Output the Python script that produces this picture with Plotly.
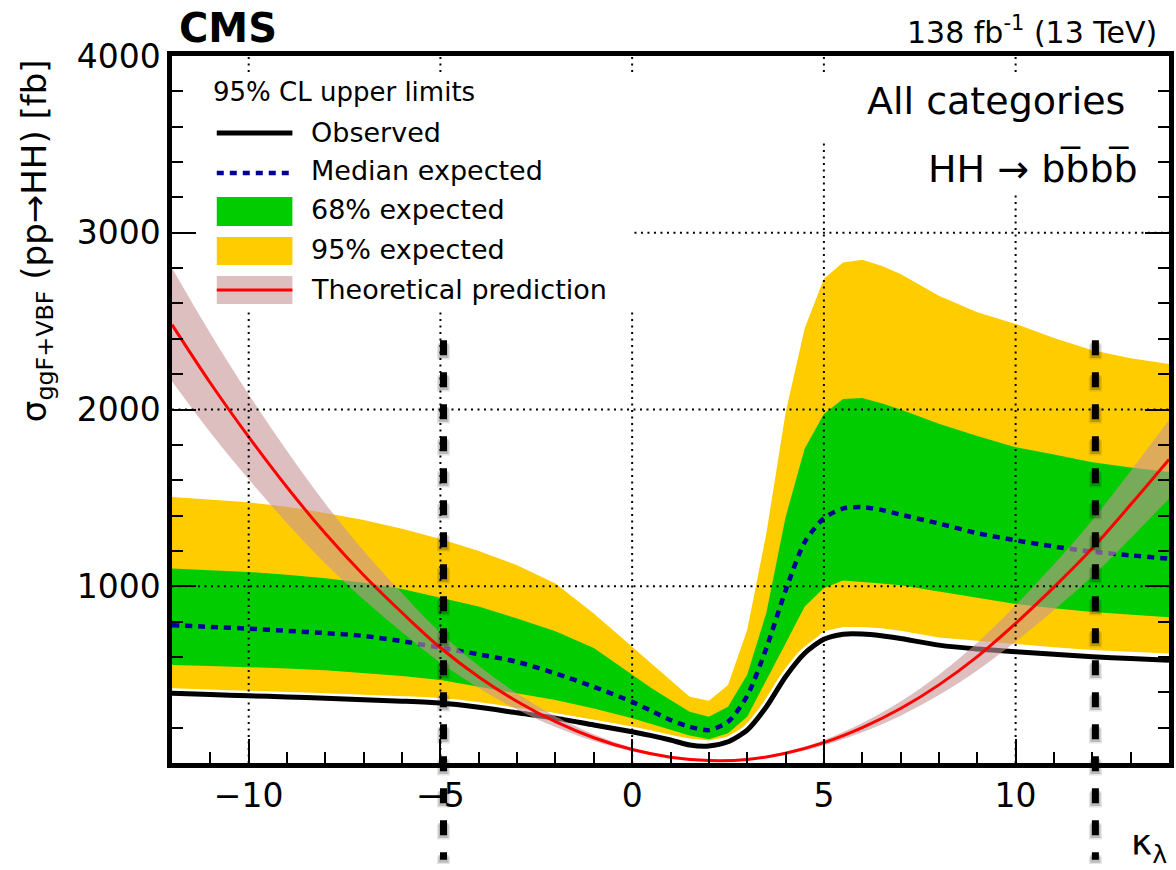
import plotly.graph_objects as go

# ---------------- data ----------------
kappa = [-12, -11, -10, -9, -8, -7, -6, -5, -4, -3, -2, -1, 0, 0.5, 1, 1.5, 2, 2.5,
         3, 3.5, 4, 4.5, 5, 5.5, 6, 6.5, 7, 8, 9, 10, 11, 12, 13, 14]

observed = [395, 388, 380, 374, 366, 358, 350, 339, 315, 284, 254, 215, 177, 155, 130, 102, 96, 120,
            186, 318, 488, 621, 700, 729, 730, 720, 704, 667, 645, 630, 615, 601, 591, 582]

exp_median = [780, 770, 760, 748, 735, 719, 689, 652, 615, 572, 507, 431, 346, 295, 243, 205, 186, 233,
              380, 650, 975, 1250, 1385, 1440, 1448, 1432, 1405, 1355, 1300, 1260, 1225, 1195, 1175, 1156]

exp_68_lo = [554, 549, 544, 535, 525, 510, 492, 469, 435, 394, 356, 309, 253, 220, 186, 155, 135, 168,
             262, 469, 676, 885, 990, 1032, 1025, 1015, 1005, 968, 935, 900, 875, 855, 840, 825]

exp_68_hi = [1100, 1092, 1081, 1065, 1045, 1020, 985, 935, 885, 817, 745, 650, 497, 425, 356, 290, 262, 318,
             500, 850, 1390, 1780, 1975, 2060, 2065, 2035, 2000, 1920, 1850, 1787, 1745, 1702, 1672, 1646]

exp_95_lo = [410, 404, 398, 392, 385, 378, 370, 362, 340, 310, 280, 244, 205, 180, 158, 138, 128, 148,
             212, 350, 520, 650, 745, 770, 770, 762, 748, 710, 690, 672, 655, 640, 630, 620]

exp_95_hi = [1505, 1490, 1475, 1450, 1415, 1375, 1325, 1268, 1200, 1119, 1015, 846, 657, 560, 469, 375, 352, 441,
             752, 1300, 1980, 2460, 2740, 2832, 2847, 2814, 2767, 2644, 2550, 2484, 2405, 2335, 2290, 2258]

theory_kappa = [-12, -11, -10, -9, -8, -7, -6, -5, -4, -3, -2, -1, 0, 1, 2, 3, 4, 5, 6, 7, 8, 9, 10, 11, 12, 13, 14]
theory = [2480, 2150, 1845, 1560, 1298, 1062, 850, 652, 487, 348, 234, 143, 76, 33, 14, 20, 55, 115,
          200, 308, 442, 602, 790, 995, 1215, 1462, 1718]
theory_hi = [2800, 2430, 2085, 1765, 1467, 1200, 960, 737, 550, 393, 264, 162, 86, 38, 17, 24, 63, 130,
             226, 348, 500, 680, 893, 1124, 1373, 1652, 1940]
theory_lo = [2160, 1870, 1605, 1357, 1129, 924, 740, 567, 424, 303, 204, 124, 66, 28, 11, 16, 47, 100,
             174, 268, 385, 524, 687, 866, 1057, 1272, 1495]

# kappa_lambda values where the prediction meets the median expected limit
kl_expected_bounds = [-4.92, 12.08]

x_range = [-12, 14]
y_range = [0, 4000]
y_ticks = [1000, 2000, 3000, 4000]

# ---------------- style ----------------
FONT = "DejaVu Sans"
YELLOW = "#ffcc00"
GREEN = "#00cc00"
BLUE = "#000099"
RED = "#ff0000"
BAND = "rgba(198,148,148,0.6)"

fig = go.Figure()

# 95% band
fig.add_trace(go.Scatter(x=kappa + kappa[::-1], y=exp_95_hi + exp_95_lo[::-1],
                         fill="toself", fillcolor=YELLOW, line=dict(width=0),
                         mode="lines", hoverinfo="skip", showlegend=False))
# 68% band
fig.add_trace(go.Scatter(x=kappa + kappa[::-1], y=exp_68_hi + exp_68_lo[::-1],
                         fill="toself", fillcolor=GREEN, line=dict(width=0),
                         mode="lines", hoverinfo="skip", showlegend=False))
# median expected
fig.add_trace(go.Scatter(x=kappa, y=exp_median, mode="lines",
                         line=dict(color=BLUE, width=4.5, dash="7px,6px",
                                   shape="spline", smoothing=0.7),
                         showlegend=False))
# observed (white outline + black line)
fig.add_trace(go.Scatter(x=kappa, y=observed, mode="lines",
                         line=dict(color="white", width=10, shape="spline", smoothing=0.7),
                         hoverinfo="skip", showlegend=False))
fig.add_trace(go.Scatter(x=kappa, y=observed, mode="lines",
                         line=dict(color="black", width=5, shape="spline", smoothing=0.7),
                         showlegend=False))
# theoretical prediction band and central value
fig.add_trace(go.Scatter(x=theory_kappa, y=theory_lo, mode="lines",
                         line=dict(width=0, shape="spline"), hoverinfo="skip", showlegend=False))
fig.add_trace(go.Scatter(x=theory_kappa, y=theory_hi, mode="lines", fill="tonexty",
                         fillcolor=BAND, line=dict(width=0, shape="spline"),
                         hoverinfo="skip", showlegend=False))
fig.add_trace(go.Scatter(x=theory_kappa, y=theory, mode="lines",
                         line=dict(color=RED, width=3, shape="spline"), showlegend=False))

shapes = []

# dotted grid drawn over the bands, broken where the text boxes sit
grid = dict(color="black", width=2, dash="2px,4.5px")
v_grid = {-10: [(0, 2563), (3909, 4000)],
          -5: [(0, 2563), (3909, 4000)],
          0: [(0, 2563), (3909, 4000)],
          5: [(0, 3525), (3909, 4000)],
          10: [(0, 3214), (3909, 4000)]}
for xv, segs in v_grid.items():
    for y0, y1 in segs:
        shapes.append(dict(type="line", xref="x", yref="y", x0=xv, x1=xv, y0=y0, y1=y1,
                           line=grid, layer="above"))
h_grid = {1000: (-12, 14), 2000: (-12, 14), 3000: (0.06, 14)}
for yv, (x0, x1) in h_grid.items():
    shapes.append(dict(type="line", xref="x", yref="y", x0=x0, x1=x1, y0=yv, y1=yv,
                       line=grid, layer="above"))

# vertical markers of the expected interval, with a soft shadow
for kv in kl_expected_bounds:
    for off, w, c in [(-0.006, 13, "rgba(0,0,0,0.10)"), (-0.004, 10, "rgba(0,0,0,0.18)")]:
        shapes.append(dict(type="line", xref="x", yref="paper", x0=kv, x1=kv,
                           y0=0.598 + off, y1=-0.137 + off,
                           line=dict(color=c, width=w, dash="15px,17px"), layer="above"))
    shapes.append(dict(type="line", xref="x", yref="paper", x0=kv, x1=kv, y0=0.598, y1=-0.137,
                       line=dict(color="black", width=7, dash="15px,17px"), layer="above"))


# legend drawn in paper coordinates
def px(x):
    return (x - 172) / 1002


def py(y):
    return (763 - y) / 707


lx0, lx1 = px(217), px(293)
shapes += [
    dict(type="line", xref="paper", yref="paper", x0=lx0, x1=lx1, y0=py(133), y1=py(133),
         line=dict(color="black", width=5)),
    dict(type="line", xref="paper", yref="paper", x0=lx0, x1=lx1, y0=py(173), y1=py(173),
         line=dict(color=BLUE, width=4.5, dash="7px,6px")),
    dict(type="rect", xref="paper", yref="paper", x0=lx0, x1=lx1, y0=py(226), y1=py(197),
         fillcolor=GREEN, line=dict(width=0)),
    dict(type="rect", xref="paper", yref="paper", x0=lx0, x1=lx1, y0=py(265), y1=py(237),
         fillcolor=YELLOW, line=dict(width=0)),
    dict(type="rect", xref="paper", yref="paper", x0=lx0, x1=lx1, y0=py(304), y1=py(276),
         fillcolor=BAND, line=dict(width=0)),
    dict(type="line", xref="paper", yref="paper", x0=lx0, x1=lx1, y0=py(290), y1=py(290),
         line=dict(color=RED, width=3)),
]

annotations = []


def txt(text, x, y, size, xanchor="left", yanchor="middle", bold=False, angle=0):
    annotations.append(dict(text=text, x=x, y=y, xref="paper", yref="paper", showarrow=False,
                            xanchor=xanchor, yanchor=yanchor, textangle=angle,
                            font=dict(family=FONT, size=size, color="black",
                                      weight="bold" if bold else "normal")))


txt("95% CL upper limits", px(211), py(92), 26)
txt("Observed", px(310), py(132), 27)
txt("Median expected", px(310), py(171), 27)
txt("68% expected", px(310), py(210), 27)
txt("95% expected", px(310), py(249), 27)
txt("Theoretical prediction", px(310), py(289), 27)

txt("All categories", px(1132), py(101), 38, xanchor="right")
txt("HH \u2192 bb\u0305bb\u0305", px(1145), py(168), 38, xanchor="right")

txt("CMS", px(177), py(28), 40, bold=True)
txt("138 fb<sup>-1</sup> (13 TeV)", px(1164), py(30), 30, xanchor="right")

txt("\u03ba<sub>\u03bb</sub>", px(1174), py(845), 36, xanchor="right")
txt("\u03c3<sub>ggF+VBF</sub> (pp\u2192HH) [fb]", px(36), py(57), 34, xanchor="center",
    yanchor="top", angle=-90)

axis_common = dict(showline=True, linecolor="black", linewidth=4.5, ticks="inside",
                   tickcolor="black", tickwidth=2, ticklen=24, showgrid=False, zeroline=False,
                   tickfont=dict(family=FONT, size=33, color="black"))

fig.update_layout(
    width=1176, height=870, autosize=False,
    margin=dict(l=172, r=2, t=56, b=107),
    plot_bgcolor="white", paper_bgcolor="white",
    xaxis=dict(range=x_range, tick0=-10, dtick=5, mirror=True,
               minor=dict(dtick=1, ticklen=11, tickcolor="black", tickwidth=2, ticks="inside"),
               **axis_common),
    yaxis=dict(range=y_range, tickmode="array", tickvals=y_ticks, mirror="ticks",
               minor=dict(dtick=200, tick0=0, ticklen=11, tickcolor="black", tickwidth=2,
                          ticks="inside"),
               **axis_common),
    shapes=shapes,
    annotations=annotations,
    showlegend=False,
)

fig.write_html("out.html")
